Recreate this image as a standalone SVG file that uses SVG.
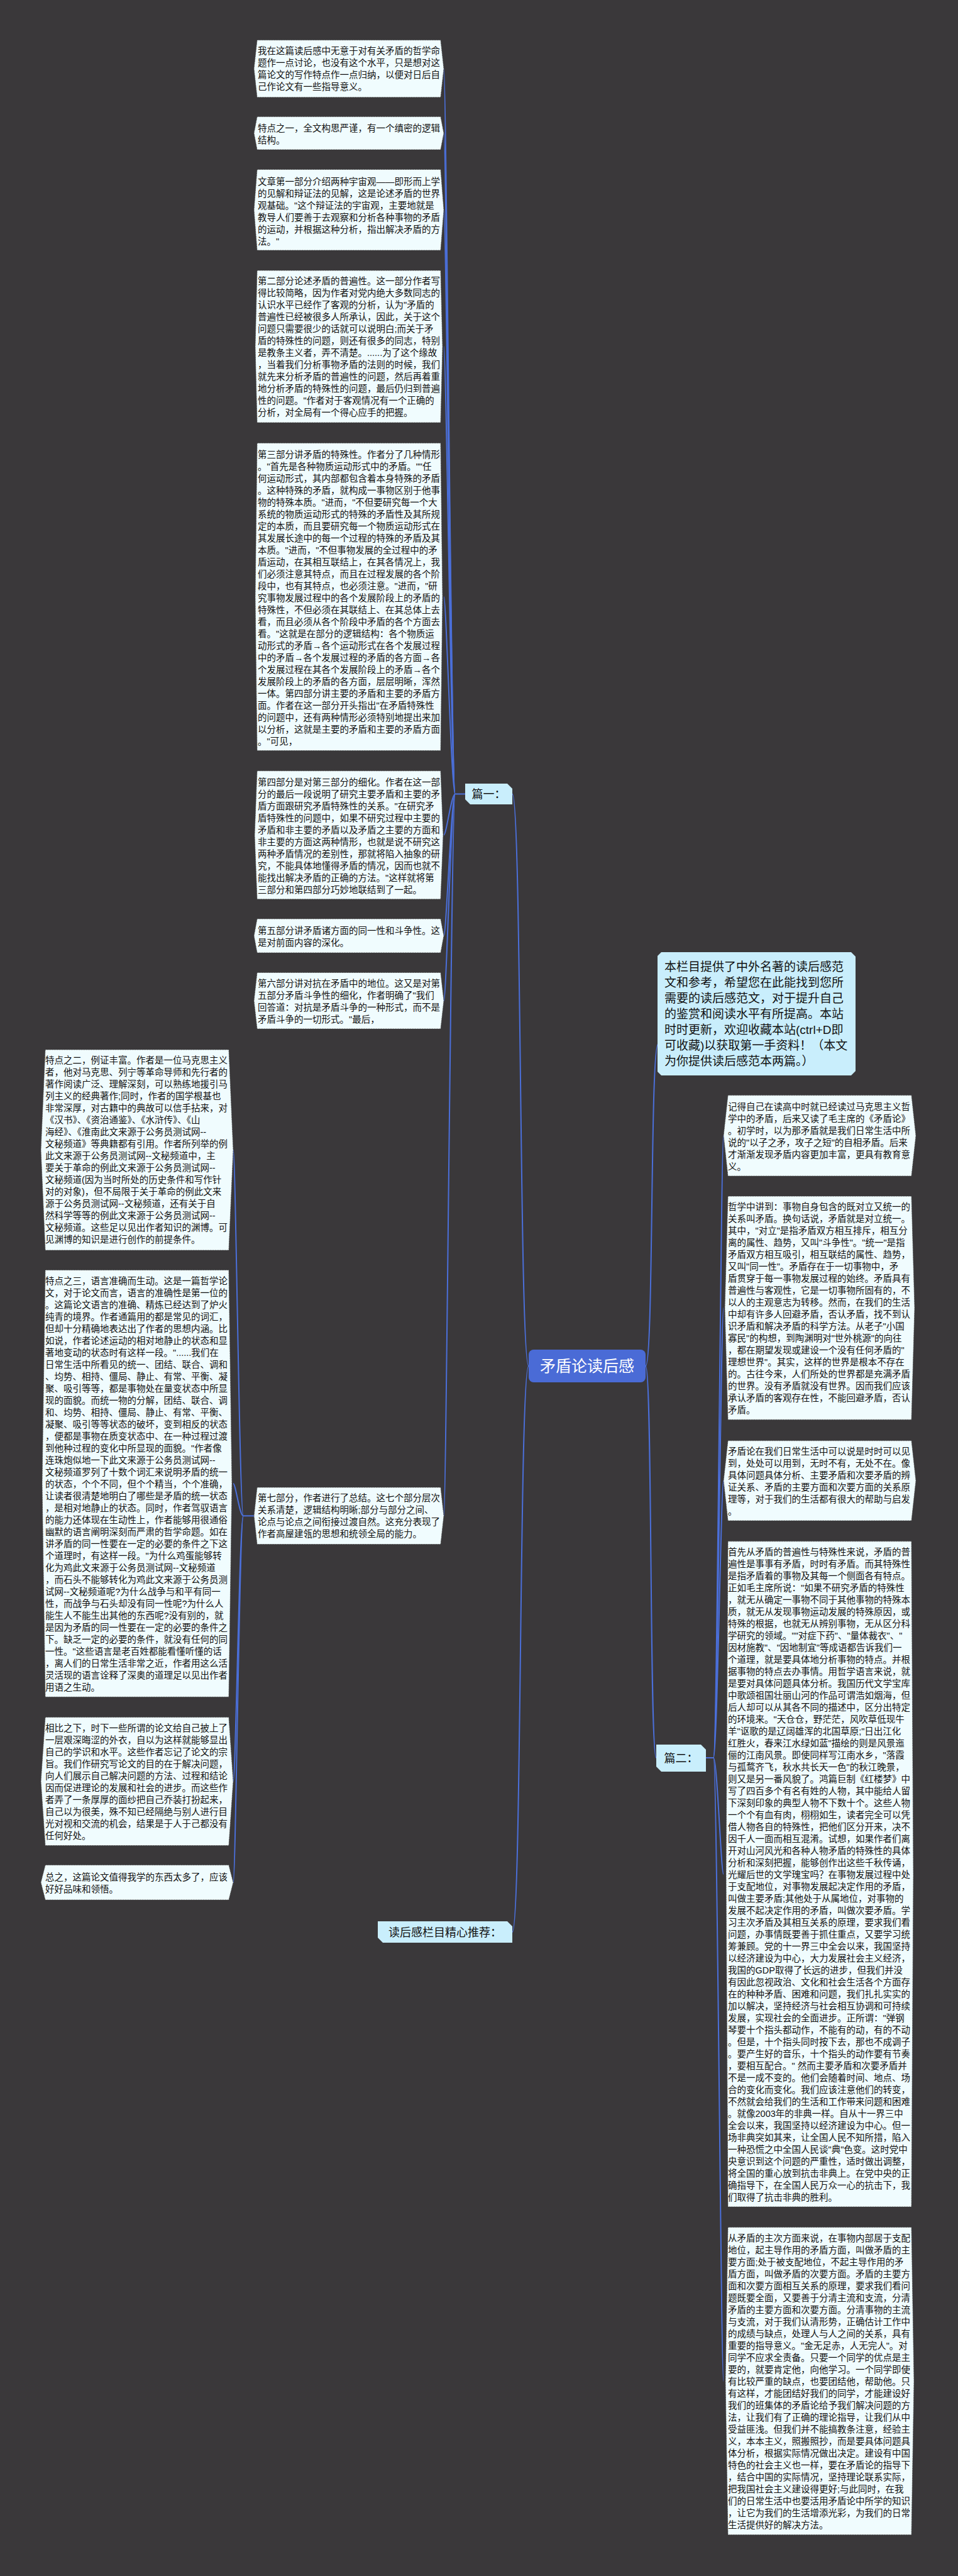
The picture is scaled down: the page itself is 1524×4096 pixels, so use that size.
<svg xmlns="http://www.w3.org/2000/svg" width="1524" height="4096" viewBox="0 0 1524 4096">
<style>
.bg{fill:#3a383a}
.box{fill:#f0fcfe;stroke:#444;stroke-width:1;stroke-dasharray:1.5 1.2}
.t{font-family:'Liberation Sans','Noto Sans CJK SC',sans-serif;font-size:14.5px;fill:#111}
.ti{font-family:'Liberation Sans','Noto Sans CJK SC',sans-serif;font-size:19px;fill:#111}
.lb{fill:#c9eefc;stroke:none}
.lbt{font-family:'Liberation Sans','Noto Sans CJK SC',sans-serif;font-size:18px;fill:#111;text-anchor:middle}
.ct{font-family:'Liberation Sans','Noto Sans CJK SC',sans-serif;font-size:25px;fill:#fff;text-anchor:middle}
.c{fill:none;stroke:#4b6fd9;stroke-width:2}
</style>
<rect class="bg" x="0" y="0" width="1524" height="4096"/>
<g id="connectors">
<path class="c" d="M841,2172 C826,2172 830,1262.5 815,1262.5"/>
<path class="c" d="M841,2172 C826,2172 830,3072 815,3072"/>
<path class="c" d="M1027,2172 C1040,2172 1034,1660 1047,1660"/>
<path class="c" d="M1027,2172 C1038,2172 1033,2795 1044,2795"/>
<path class="c" d="M740,1262.5 L724,1262.5"/>
<path class="c" d="M724,1262.5 C718,1262.5 710,109.2 706,109.2"/>
<path class="c" d="M724,1262.5 C718,1262.5 710,211.8 706,211.8"/>
<path class="c" d="M724,1262.5 C718,1262.5 710,333.8 706,333.8"/>
<path class="c" d="M724,1262.5 C718,1262.5 710,551 706,551"/>
<path class="c" d="M724,1262.5 C718,1262.5 710,949 706,949"/>
<path class="c" d="M724,1262.5 C718,1262.5 710,1327.8 706,1327.8"/>
<path class="c" d="M724,1262.5 C718,1262.5 710,1488 706,1488"/>
<path class="c" d="M724,1262.5 C718,1262.5 710,1591.2 706,1591.2"/>
<path class="c" d="M724,1262.5 C718,1262.5 710,2410.3 706,2410.3"/>
<path class="c" d="M404,2410.3 L387,2410.3"/>
<path class="c" d="M387,2410.3 C381,2410.3 375,1828.5 371,1828.5"/>
<path class="c" d="M387,2410.3 C381,2410.3 375,2358.9 371,2358.9"/>
<path class="c" d="M387,2410.3 C381,2410.3 375,2832.5 371,2832.5"/>
<path class="c" d="M387,2410.3 C381,2410.3 375,2993.2 371,2993.2"/>
<path class="c" d="M1123,2795 L1135,2795"/>
<path class="c" d="M1135,2795 C1141,2795 1147,1805.8 1151,1805.8"/>
<path class="c" d="M1135,2795 C1141,2795 1147,2079.7 1151,2079.7"/>
<path class="c" d="M1135,2795 C1141,2795 1147,2354.4 1151,2354.4"/>
<path class="c" d="M1135,2795 C1141,2795 1147,2979.9 1151,2979.9"/>
<path class="c" d="M1135,2795 C1141,2795 1147,3786 1151,3786"/>
</g>
<g id="center">
<rect x="841" y="2146" width="186" height="52" rx="8" fill="#4a6bd6"/>
<text class="ct" x="934" y="2181">矛盾论读后感</text>
</g>
<g id="pian1">
<path class="lb" d="M740,1246 H807 L815,1254 V1279 H748 L740,1271 Z"/>
<text class="lbt" x="777.5" y="1269">篇一：</text>
</g>
<g id="pian2">
<path class="lb" d="M1044,2774 H1115 L1123,2782 V2817 H1052 L1044,2809 Z"/>
<text class="lbt" x="1083.5" y="2801.5">篇二：</text>
</g>
<g id="tuijian">
<path class="lb" d="M601,3055 H807 L815,3063 V3089 H609 L601,3081 Z"/>
<text class="lbt" x="708" y="3078.5">读后感栏目精心推荐：</text>
</g>
<g id="intro">
<path class="lb" d="M1052,1514 H1354 L1361,1521 V1703 L1354,1710 H1052 L1046,1704 V1520 Z"/>
<text class="ti" x="1057" y="1544"><tspan x="1057">本栏目提供了中外名著的读后感范</tspan><tspan x="1057" dy="25">文和参考，希望您在此能找到您所</tspan><tspan x="1057" dy="25">需要的读后感范文，对于提升自己</tspan><tspan x="1057" dy="25">的鉴赏和阅读水平有所提高。本站</tspan><tspan x="1057" dy="25">时时更新，欢迎收藏本站(ctrl+D即</tspan><tspan x="1057" dy="25">可收藏)以获取第一手资料！（本文</tspan><tspan x="1057" dy="25">为你提供读后感范本两篇。）</tspan></text>
</g>
<g id="b1">
<polygon class="box" points="409,63.7 701,63.7 706,109.2 701,154.7 409,154.7 404,109.2"/>
<text class="t" x="410" y="86.4"><tspan x="410">我在这篇读后感中无意于对有关矛盾的哲学命</tspan><tspan x="410" dy="19">题作一点讨论，也没有这个水平，只是想对这</tspan><tspan x="410" dy="19">篇论文的写作特点作一点归纳，以便对日后自</tspan><tspan x="410" dy="19">己作论文有一些指导意义。</tspan></text>
</g>
<g id="b2">
<polygon class="box" points="409,185.6 701,185.6 706,211.8 701,238 409,238 404,211.8"/>
<text class="t" x="410" y="209"><tspan x="410">特点之一，全文构思严谨，有一个缜密的逻辑</tspan><tspan x="410" dy="19">结构。</tspan></text>
</g>
<g id="b3">
<polygon class="box" points="409,269.5 701,269.5 706,333.8 701,398 409,398 404,333.8"/>
<text class="t" x="410" y="293.5"><tspan x="410">文章第一部分介绍两种宇宙观——即形而上学</tspan><tspan x="410" dy="19">的见解和辩证法的见解，这是论述矛盾的世界</tspan><tspan x="410" dy="19">观基础。"这个辩证法的宇宙观，主要地就是</tspan><tspan x="410" dy="19">教导人们要善于去观察和分析各种事物的矛盾</tspan><tspan x="410" dy="19">的运动，并根据这种分析，指出解决矛盾的方</tspan><tspan x="410" dy="19">法。"</tspan></text>
</g>
<g id="b4">
<polygon class="box" points="409,430 701,430 704,551 701,672 409,672 406,551"/>
<text class="t" x="410" y="452.3"><tspan x="410">第二部分论述矛盾的普遍性。这一部分作者写</tspan><tspan x="410" dy="19">得比较简略，因为作者对党内绝大多数同志的</tspan><tspan x="410" dy="19">认识水平已经作了客观的分析，认为"矛盾的</tspan><tspan x="410" dy="19">普遍性已经被很多人所承认，因此，关于这个</tspan><tspan x="410" dy="19">问题只需要很少的话就可以说明白;而关于矛</tspan><tspan x="410" dy="19">盾的特殊性的问题，则还有很多的同志，特别</tspan><tspan x="410" dy="19">是教条主义者，弄不清楚。......为了这个缘故</tspan><tspan x="410" dy="19">，当着我们分析事物矛盾的法则的时候，我们</tspan><tspan x="410" dy="19">就先来分析矛盾的普遍性的问题，然后再着重</tspan><tspan x="410" dy="19">地分析矛盾的特殊性的问题，最后仍归到普遍</tspan><tspan x="410" dy="19">性的问题。"作者对于客观情况有一个正确的</tspan><tspan x="410" dy="19">分析，对全局有一个得心应手的把握。</tspan></text>
</g>
<g id="b5">
<polygon class="box" points="409,704.5 701,704.5 704,949 701,1193.6 409,1193.6 406,949"/>
<text class="t" x="410" y="727.5"><tspan x="410">第三部分讲矛盾的特殊性。作者分了几种情形</tspan><tspan x="410" dy="19">。"首先是各种物质运动形式中的矛盾。""任</tspan><tspan x="410" dy="19">何运动形式，其内部都包含着本身特殊的矛盾</tspan><tspan x="410" dy="19">。这种特殊的矛盾，就构成一事物区别于他事</tspan><tspan x="410" dy="19">物的特殊本质。"进而，"不但要研究每一个大</tspan><tspan x="410" dy="19">系统的物质运动形式的特殊的矛盾性及其所规</tspan><tspan x="410" dy="19">定的本质，而且要研究每一个物质运动形式在</tspan><tspan x="410" dy="19">其发展长途中的每一个过程的特殊的矛盾及其</tspan><tspan x="410" dy="19">本质。"进而，"不但事物发展的全过程中的矛</tspan><tspan x="410" dy="19">盾运动，在其相互联结上，在其各情况上，我</tspan><tspan x="410" dy="19">们必须注意其特点，而且在过程发展的各个阶</tspan><tspan x="410" dy="19">段中，也有其特点，也必须注意。"进而，"研</tspan><tspan x="410" dy="19">究事物发展过程中的各个发展阶段上的矛盾的</tspan><tspan x="410" dy="19">特殊性，不但必须在其联结上、在其总体上去</tspan><tspan x="410" dy="19">看，而且必须从各个阶段中矛盾的各个方面去</tspan><tspan x="410" dy="19">看。"这就是在部分的逻辑结构：各个物质运</tspan><tspan x="410" dy="19">动形式的矛盾→各个运动形式在各个发展过程</tspan><tspan x="410" dy="19">中的矛盾→各个发展过程的矛盾的各方面→各</tspan><tspan x="410" dy="19">个发展过程在其各个发展阶段上的矛盾→各个</tspan><tspan x="410" dy="19">发展阶段上的矛盾的各方面，层层明晰，浑然</tspan><tspan x="410" dy="19">一体。第四部分讲主要的矛盾和主要的矛盾方</tspan><tspan x="410" dy="19">面。作者在这一部分开头指出"在矛盾特殊性</tspan><tspan x="410" dy="19">的问题中，还有两种情形必须特别地提出来加</tspan><tspan x="410" dy="19">以分析，这就是主要的矛盾和主要的矛盾方面</tspan><tspan x="410" dy="19">。"可见，</tspan></text>
</g>
<g id="b6">
<polygon class="box" points="409,1225.7 701,1225.7 705,1327.8 701,1429.8 409,1429.8 405,1327.8"/>
<text class="t" x="410" y="1249"><tspan x="410">第四部分是对第三部分的细化。作者在这一部</tspan><tspan x="410" dy="19">分的最后一段说明了研究主要矛盾和主要的矛</tspan><tspan x="410" dy="19">盾方面跟研究矛盾特殊性的关系。"在研究矛</tspan><tspan x="410" dy="19">盾特殊性的问题中，如果不研究过程中主要的</tspan><tspan x="410" dy="19">矛盾和非主要的矛盾以及矛盾之主要的方面和</tspan><tspan x="410" dy="19">非主要的方面这两种情形，也就是说不研究这</tspan><tspan x="410" dy="19">两种矛盾情况的差别性，那就将陷入抽象的研</tspan><tspan x="410" dy="19">究，不能具体地懂得矛盾的情况，因而也就不</tspan><tspan x="410" dy="19">能找出解决矛盾的正确的方法。"这样就将第</tspan><tspan x="410" dy="19">三部分和第四部分巧妙地联结到了一起。</tspan></text>
</g>
<g id="b7">
<polygon class="box" points="409,1461 701,1461 706,1488 701,1515 409,1515 404,1488"/>
<text class="t" x="410" y="1485.3"><tspan x="410">第五部分讲矛盾诸方面的同一性和斗争性。这</tspan><tspan x="410" dy="19">是对前面内容的深化。</tspan></text>
</g>
<g id="b8">
<polygon class="box" points="409,1546.4 701,1546.4 706,1591.2 701,1636 409,1636 404,1591.2"/>
<text class="t" x="410" y="1568.5"><tspan x="410">第六部分讲对抗在矛盾中的地位。这又是对第</tspan><tspan x="410" dy="19">五部分矛盾斗争性的细化，作者明确了"我们</tspan><tspan x="410" dy="19">回答道：对抗是矛盾斗争的一种形式，而不是</tspan><tspan x="410" dy="19">矛盾斗争的一切形式。"最后，</tspan></text>
</g>
<g id="b9">
<polygon class="box" points="409,2365 701,2365 706,2410.3 701,2455.6 409,2455.6 404,2410.3"/>
<text class="t" x="410" y="2387.3"><tspan x="410">第七部分，作者进行了总结。这七个部分层次</tspan><tspan x="410" dy="19">关系清楚，逻辑结构明晰;部分与部分之间、</tspan><tspan x="410" dy="19">论点与论点之间衔接过渡自然。这充分表现了</tspan><tspan x="410" dy="19">作者高屋建瓴的思想和统领全局的能力。</tspan></text>
</g>
<g id="l1">
<polygon class="box" points="72,1669 364,1669 371,1828.5 364,1988 72,1988 65,1828.5"/>
<text class="t" x="72" y="1691"><tspan x="72">特点之二，例证丰富。作者是一位马克思主义</tspan><tspan x="72" dy="19">者，他对马克思、列宁等革命导师和先行者的</tspan><tspan x="72" dy="19">著作阅读广泛、理解深刻，可以熟练地援引马</tspan><tspan x="72" dy="19">列主义的经典著作;同时，作者的国学根基也</tspan><tspan x="72" dy="19">非常深厚，对古籍中的典故可以信手拈来，对</tspan><tspan x="72" dy="19">《汉书》、《资治通鉴》、《水浒传》、《山</tspan><tspan x="72" dy="19">海经》、《淮南此文来源于公务员测试网--</tspan><tspan x="72" dy="19">文秘频道》等典籍都有引用。作者所列举的例</tspan><tspan x="72" dy="19">此文来源于公务员测试网--文秘频道中，主</tspan><tspan x="72" dy="19">要关于革命的例此文来源于公务员测试网--</tspan><tspan x="72" dy="19">文秘频道(因为当时所处的历史条件和写作针</tspan><tspan x="72" dy="19">对的对象)，但不局限于关于革命的例此文来</tspan><tspan x="72" dy="19">源于公务员测试网--文秘频道，还有关于自</tspan><tspan x="72" dy="19">然科学等等的例此文来源于公务员测试网--</tspan><tspan x="72" dy="19">文秘频道。这些足以见出作者知识的渊博。可</tspan><tspan x="72" dy="19">见渊博的知识是进行创作的前提条件。</tspan></text>
</g>
<g id="l2">
<polygon class="box" points="72,2019.4 364,2019.4 369,2358.9 364,2698.3 72,2698.3 67,2358.9"/>
<text class="t" x="72" y="2041.5"><tspan x="72">特点之三，语言准确而生动。这是一篇哲学论</tspan><tspan x="72" dy="19">文，对于论文而言，语言的准确性是第一位的</tspan><tspan x="72" dy="19">。这篇论文语言的准确、精炼已经达到了炉火</tspan><tspan x="72" dy="19">纯青的境界。作者通篇用的都是常见的词汇，</tspan><tspan x="72" dy="19">但却十分精确地表达出了作者的思想内涵。比</tspan><tspan x="72" dy="19">如说，作者论述运动的相对地静止的状态和显</tspan><tspan x="72" dy="19">著地变动的状态时有这样一段。"......我们在</tspan><tspan x="72" dy="19">日常生活中所看见的统一、团结、联合、调和</tspan><tspan x="72" dy="19">、均势、相持、僵局、静止、有常、平衡、凝</tspan><tspan x="72" dy="19">聚、吸引等等，都是事物处在量变状态中所显</tspan><tspan x="72" dy="19">现的面貌。而统一物的分解，团结、联合、调</tspan><tspan x="72" dy="19">和、均势、相持、僵局、静止、有常、平衡、</tspan><tspan x="72" dy="19">凝聚、吸引等等状态的破坏，变到相反的状态</tspan><tspan x="72" dy="19">，便都是事物在质变状态中、在一种过程过渡</tspan><tspan x="72" dy="19">到他种过程的变化中所显现的面貌。"作者像</tspan><tspan x="72" dy="19">连珠炮似地一下此文来源于公务员测试网--</tspan><tspan x="72" dy="19">文秘频道罗列了十数个词汇来说明矛盾的统一</tspan><tspan x="72" dy="19">的状态，个个不同，但个个精当，个个准确，</tspan><tspan x="72" dy="19">让读者很清楚地明白了哪些是矛盾的统一状态</tspan><tspan x="72" dy="19">，是相对地静止的状态。同时，作者驾驭语言</tspan><tspan x="72" dy="19">的能力还体现在生动性上，作者能够用很通俗</tspan><tspan x="72" dy="19">幽默的语言阐明深刻而严肃的哲学命题。如在</tspan><tspan x="72" dy="19">讲矛盾的同一性要在一定的必要的条件之下这</tspan><tspan x="72" dy="19">个道理时，有这样一段。"为什么鸡蛋能够转</tspan><tspan x="72" dy="19">化为鸡此文来源于公务员测试网--文秘频道</tspan><tspan x="72" dy="19">，而石头不能够转化为鸡此文来源于公务员测</tspan><tspan x="72" dy="19">试网--文秘频道呢?为什么战争与和平有同一</tspan><tspan x="72" dy="19">性，而战争与石头却没有同一性呢?为什么人</tspan><tspan x="72" dy="19">能生人不能生出其他的东西呢?没有别的，就</tspan><tspan x="72" dy="19">是因为矛盾的同一性要在一定的必要的条件之</tspan><tspan x="72" dy="19">下。缺乏一定的必要的条件，就没有任何的同</tspan><tspan x="72" dy="19">一性。"这些语言是老百姓都能看懂听懂的话</tspan><tspan x="72" dy="19">，离人们的日常生活非常之近，作者用这么活</tspan><tspan x="72" dy="19">灵活现的语言诠释了深奥的道理足以见出作者</tspan><tspan x="72" dy="19">用语之生动。</tspan></text>
</g>
<g id="l3">
<polygon class="box" points="72,2730.5 364,2730.5 371,2832.5 364,2934.5 72,2934.5 65,2832.5"/>
<text class="t" x="72" y="2753.2"><tspan x="72">相比之下，时下一些所谓的论文给自己披上了</tspan><tspan x="72" dy="19">一层艰深晦涩的外衣，自以为这样就能够显出</tspan><tspan x="72" dy="19">自己的学识和水平。这些作者忘记了论文的宗</tspan><tspan x="72" dy="19">旨。我们作研究写论文的目的在于解决问题，</tspan><tspan x="72" dy="19">向人们展示自己解决问题的方法、过程和结论</tspan><tspan x="72" dy="19">因而促进理论的发展和社会的进步。而这些作</tspan><tspan x="72" dy="19">者弄了一条厚厚的面纱把自己乔装打扮起来，</tspan><tspan x="72" dy="19">自己以为很美，殊不知已经隔绝与别人进行目</tspan><tspan x="72" dy="19">光对视和交流的机会，结果是于人于己都没有</tspan><tspan x="72" dy="19">任何好处。</tspan></text>
</g>
<g id="l4">
<polygon class="box" points="72,2965.5 364,2965.5 371,2993.2 364,3021 72,3021 65,2993.2"/>
<text class="t" x="72" y="2990"><tspan x="72">总之，这篇论文值得我学的东西太多了，应该</tspan><tspan x="72" dy="19">好好品味和领悟。</tspan></text>
</g>
<g id="r1">
<polygon class="box" points="1158,1741.6 1450,1741.6 1457,1805.8 1450,1870 1158,1870 1151,1805.8"/>
<text class="t" x="1158" y="1764.5"><tspan x="1158">记得自己在读高中时就已经读过马克思主义哲</tspan><tspan x="1158" dy="19">学中的矛盾，后来又读了毛主席的《矛盾论》</tspan><tspan x="1158" dy="19">。初学时，以为那矛盾就是我们日常生活中所</tspan><tspan x="1158" dy="19">说的"以子之矛，攻子之短"的自相矛盾。后来</tspan><tspan x="1158" dy="19">才渐渐发现矛盾内容更加丰富，更具有教育意</tspan><tspan x="1158" dy="19">义。</tspan></text>
</g>
<g id="r2">
<polygon class="box" points="1158,1902 1450,1902 1455,2079.7 1450,2257.4 1158,2257.4 1153,2079.7"/>
<text class="t" x="1158" y="1924.4"><tspan x="1158">哲学中讲到：事物自身包含的既对立又统一的</tspan><tspan x="1158" dy="19">关系叫矛盾。换句话说，矛盾就是对立统一。</tspan><tspan x="1158" dy="19">其中，"对立"是指矛盾双方相互排斥，相互分</tspan><tspan x="1158" dy="19">离的属性、趋势，又叫"斗争性"。"统一"是指</tspan><tspan x="1158" dy="19">矛盾双方相互吸引，相互联结的属性、趋势，</tspan><tspan x="1158" dy="19">又叫"同一性"。矛盾存在于一切事物中，矛</tspan><tspan x="1158" dy="19">盾贯穿于每一事物发展过程的始终。矛盾具有</tspan><tspan x="1158" dy="19">普遍性与客观性，它是一切事物所固有的，不</tspan><tspan x="1158" dy="19">以人的主观意志为转移。然而，在我们的生活</tspan><tspan x="1158" dy="19">中却有许多人回避矛盾，否认矛盾，找不到认</tspan><tspan x="1158" dy="19">识矛盾和解决矛盾的科学方法。从老子"小国</tspan><tspan x="1158" dy="19">寡民"的构想，到陶渊明对"世外桃源"的向往</tspan><tspan x="1158" dy="19">，都在期望发现或建设一个没有任何矛盾的"</tspan><tspan x="1158" dy="19">理想世界"。其实，这样的世界是根本不存在</tspan><tspan x="1158" dy="19">的。古往今来，人们所处的世界都是充满矛盾</tspan><tspan x="1158" dy="19">的世界。没有矛盾就没有世界。因而我们应该</tspan><tspan x="1158" dy="19">承认矛盾的客观存在性，不能回避矛盾，否认</tspan><tspan x="1158" dy="19">矛盾。</tspan></text>
</g>
<g id="r3">
<polygon class="box" points="1158,2290.8 1450,2290.8 1457,2354.4 1450,2418 1158,2418 1151,2354.4"/>
<text class="t" x="1158" y="2313"><tspan x="1158">矛盾论在我们日常生活中可以说是时时可以见</tspan><tspan x="1158" dy="19">到，处处可以用到，无时不有，无处不在。像</tspan><tspan x="1158" dy="19">具体问题具体分析、主要矛盾和次要矛盾的辨</tspan><tspan x="1158" dy="19">证关系、矛盾的主要方面和次要方面的关系原</tspan><tspan x="1158" dy="19">理等，对于我们的生活都有很大的帮助与启发</tspan><tspan x="1158" dy="19">。</tspan></text>
</g>
<g id="r4">
<polygon class="box" points="1158,2450.8 1450,2450.8 1453,2979.9 1450,3509 1158,3509 1155,2979.9"/>
<text class="t" x="1158" y="2473"><tspan x="1158">首先从矛盾的普遍性与特殊性来说，矛盾的普</tspan><tspan x="1158" dy="19">遍性是事事有矛盾，时时有矛盾。而其特殊性</tspan><tspan x="1158" dy="19">是指矛盾着的事物及其每一个侧面各有特点。</tspan><tspan x="1158" dy="19">正如毛主席所说："如果不研究矛盾的特殊性</tspan><tspan x="1158" dy="19">，就无从确定一事物不同于其他事物的特殊本</tspan><tspan x="1158" dy="19">质，就无从发现事物运动发展的特殊原因，或</tspan><tspan x="1158" dy="19">特殊的根据，也就无从辨别事物，无从区分科</tspan><tspan x="1158" dy="19">学研究的领域。""对症下药"、"量体裁衣"、"</tspan><tspan x="1158" dy="19">因材施教"、"因地制宜"等成语都告诉我们一</tspan><tspan x="1158" dy="19">个道理，就是要具体地分析事物的特点。并根</tspan><tspan x="1158" dy="19">据事物的特点去办事情。用哲学语言来说，就</tspan><tspan x="1158" dy="19">是要对具体问题具体分析。我国历代文学宝库</tspan><tspan x="1158" dy="19">中歌颂祖国壮丽山河的作品可谓浩如烟海，但</tspan><tspan x="1158" dy="19">后人却可以从其各不同的描述中，区分出特定</tspan><tspan x="1158" dy="19">的环境来。"天仓仓，野茫茫，风吹草低现牛</tspan><tspan x="1158" dy="19">羊"讴歌的是辽阔雄浑的北国草原;"日出江化</tspan><tspan x="1158" dy="19">红胜火，春来江水绿如蓝"描绘的则是风景迤</tspan><tspan x="1158" dy="19">俪的江南风景。即使同样写江南水乡，"落霞</tspan><tspan x="1158" dy="19">与孤鹜齐飞，秋水共长天一色"的秋江晚景，</tspan><tspan x="1158" dy="19">则又是另一番风貌了。鸿篇巨制《红楼梦》中</tspan><tspan x="1158" dy="19">写了四百多个有名有姓的人物，其中能给人留</tspan><tspan x="1158" dy="19">下深刻印象的典型人物不下数十个。这些人物</tspan><tspan x="1158" dy="19">一个个有血有肉，栩栩如生，读者完全可以凭</tspan><tspan x="1158" dy="19">借人物各自的特殊性，把他们区分开来，决不</tspan><tspan x="1158" dy="19">因千人一面而相互混淆。试想，如果作者们离</tspan><tspan x="1158" dy="19">开对山河风光和各种人物矛盾的特殊性的具体</tspan><tspan x="1158" dy="19">分析和深刻把握，能够创作出这些千秋传诵，</tspan><tspan x="1158" dy="19">光耀后世的文学瑰宝吗？在事物发展过程中处</tspan><tspan x="1158" dy="19">于支配地位，对事物发展起决定作用的矛盾，</tspan><tspan x="1158" dy="19">叫做主要矛盾;其他处于从属地位，对事物的</tspan><tspan x="1158" dy="19">发展不起决定作用的矛盾，叫做次要矛盾。学</tspan><tspan x="1158" dy="19">习主次矛盾及其相互关系的原理，要求我们看</tspan><tspan x="1158" dy="19">问题，办事情既要善于抓住重点，又要学习统</tspan><tspan x="1158" dy="19">筹兼顾。党的十一界三中全会以来，我国坚持</tspan><tspan x="1158" dy="19">以经济建设为中心，大力发展社会主义经济，</tspan><tspan x="1158" dy="19">我国的GDP取得了长远的进步，但我们并没</tspan><tspan x="1158" dy="19">有因此忽视政治、文化和社会生活各个方面存</tspan><tspan x="1158" dy="19">在的种种矛盾、困难和问题，我们扎扎实实的</tspan><tspan x="1158" dy="19">加以解决，坚持经济与社会相互协调和可持续</tspan><tspan x="1158" dy="19">发展，实现社会的全面进步。正所谓："弹钢</tspan><tspan x="1158" dy="19">琴要十个指头都动作，不能有的动，有的不动</tspan><tspan x="1158" dy="19">。但是，十个指头同时按下去，那也不成调子</tspan><tspan x="1158" dy="19">。要产生好的音乐，十个指头的动作要有节奏</tspan><tspan x="1158" dy="19">，要相互配合。" 然而主要矛盾和次要矛盾并</tspan><tspan x="1158" dy="19">不是一成不变的。他们会随着时间、地点、场</tspan><tspan x="1158" dy="19">合的变化而变化。我们应该注意他们的转变，</tspan><tspan x="1158" dy="19">不然就会给我们的生活和工作带来问题和困难</tspan><tspan x="1158" dy="19">。就像2003年的非典一样。自从十一界三中</tspan><tspan x="1158" dy="19">全会以来，我国坚持以经济建设为中心。但一</tspan><tspan x="1158" dy="19">场非典突如其来，让全国人民不知所措，陷入</tspan><tspan x="1158" dy="19">一种恐慌之中全国人民谈"典"色变。这时党中</tspan><tspan x="1158" dy="19">央意识到这个问题的严重性，适时做出调整，</tspan><tspan x="1158" dy="19">将全国的重心放到抗击非典上。在党中央的正</tspan><tspan x="1158" dy="19">确指导下，在全国人民万众一心的抗击下，我</tspan><tspan x="1158" dy="19">们取得了抗击非典的胜利。</tspan></text>
</g>
<g id="r5">
<polygon class="box" points="1158,3541.4 1450,3541.4 1454,3786 1450,4030.5 1158,4030.5 1154,3786"/>
<text class="t" x="1158" y="3563.5"><tspan x="1158">从矛盾的主次方面来说，在事物内部居于支配</tspan><tspan x="1158" dy="19">地位，起主导作用的矛盾方面，叫做矛盾的主</tspan><tspan x="1158" dy="19">要方面;处于被支配地位，不起主导作用的矛</tspan><tspan x="1158" dy="19">盾方面，叫做矛盾的次要方面。矛盾的主要方</tspan><tspan x="1158" dy="19">面和次要方面相互关系的原理，要求我们看问</tspan><tspan x="1158" dy="19">题既要全面，又要善于分清主流和支流，分清</tspan><tspan x="1158" dy="19">矛盾的主要方面和次要方面。分清事物的主流</tspan><tspan x="1158" dy="19">与支流，对于我们认清形势，正确估计工作中</tspan><tspan x="1158" dy="19">的成绩与缺点，处理人与人之间的关系，具有</tspan><tspan x="1158" dy="19">重要的指导意义。"金无足赤，人无完人"。对</tspan><tspan x="1158" dy="19">同学不应求全责备。只要一个同学的优点是主</tspan><tspan x="1158" dy="19">要的，就要肯定他，向他学习。一个同学即使</tspan><tspan x="1158" dy="19">有比较严重的缺点，也要团结他，帮助他。只</tspan><tspan x="1158" dy="19">有这样，才能团结好我们的同学，才能建设好</tspan><tspan x="1158" dy="19">我们的班集体的矛盾论给予我们解决问题的方</tspan><tspan x="1158" dy="19">法，让我们有了正确的理论指导，让我们从中</tspan><tspan x="1158" dy="19">受益匪浅。但我们并不能搞教条注意，经验主</tspan><tspan x="1158" dy="19">义，本本主义，照搬照抄，而是要具体问题具</tspan><tspan x="1158" dy="19">体分析，根据实际情况做出决定。建设有中国</tspan><tspan x="1158" dy="19">特色的社会主义也一样，要在矛盾论的指导下</tspan><tspan x="1158" dy="19">，结合中国的实际情况，坚持理论联系实际，</tspan><tspan x="1158" dy="19">把我国社会主义建设得更好;与此同时，在我</tspan><tspan x="1158" dy="19">们的日常生活中也要活用矛盾论中所学的知识</tspan><tspan x="1158" dy="19">，让它为我们的生活增添光彩，为我们的日常</tspan><tspan x="1158" dy="19">生活提供好的解决方法。</tspan></text>
</g>
</svg>
